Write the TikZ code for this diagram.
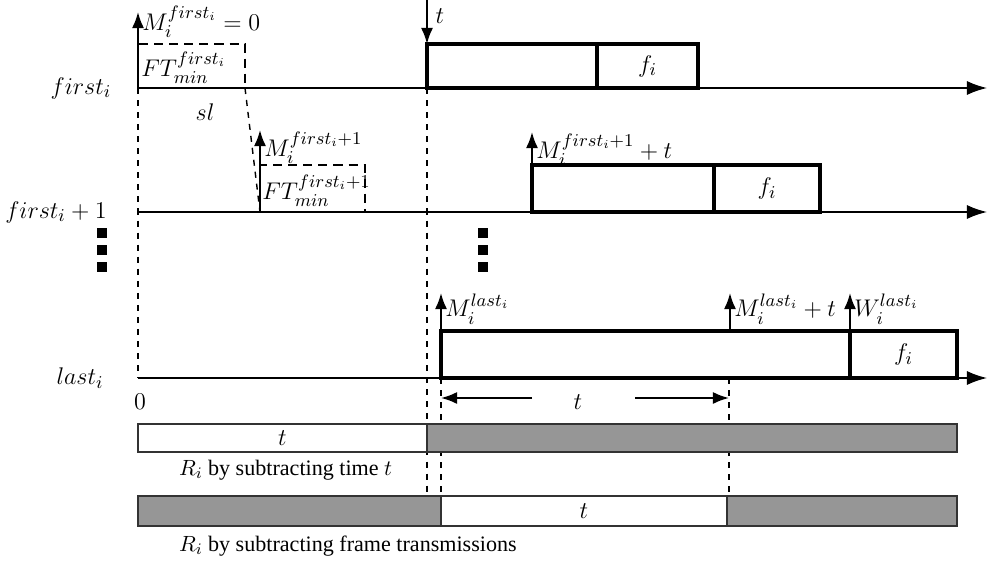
\documentclass[tikz,border=0pt]{standalone}
\usepackage{amsmath}
\usepackage{fontspec}
\setmainfont{Liberation Serif}
\usetikzlibrary{positioning,arrows.meta}

\tikzset{
  timeline/.style={line width=0.8pt,-{Latex[length=10pt,width=7pt]}},
  release/.style={line width=1pt,-{Latex[length=8pt,width=6pt]}},
  slotbox/.style={draw,line width=1.6pt},
  minbox/.style={draw,dash pattern=on 4.5pt off 3pt,line width=1.4pt},
  guide/.style={dashed,line width=0.7pt},
  busy/.style={draw=black!80,fill=black!41,line width=1.3pt},
  idle/.style={draw=black!80,fill=white,line width=1.3pt},
  dot/.style={fill=black,minimum size=5pt,inner sep=0pt},
  caption/.style={anchor=west,font=\fontsize{11}{13}\selectfont}
}

\begin{document}
\begin{tikzpicture}[x=0.0175cm,y=-0.0175cm,font=\fontsize{12.6}{15}\selectfont]
\useasboundingbox (0,0) rectangle (988,563);

\coordinate (o1) at (138,88);
\coordinate (o2) at (138,212);
\coordinate (o3) at (138,378);

\node (l1) at (81,88) {$first_i$};
\node (l2) at (56,212) {$first_i+1$};
\node (l3) at (80,378) {$last_i$};

\draw[guide] (o1) -- (o3);
\draw[guide] (427,88) -- (427,496);
\draw[guide] (441,378) -- (441,496);
\draw[guide] (729,378) -- (729,496);

\draw[timeline] (o1) -- (987,88);
\draw[timeline] (o2) -- (987,212);
\draw[timeline] (o3) -- (987,378);

\draw[minbox] (o1) rectangle (245,44) coordinate (ft1);
\node[anchor=west,inner sep=1pt] (ftl1) at (139,68) {$FT_{min}^{first_i}$};
\draw[release] (o1) -- (138,12) coordinate (m1);
\node[anchor=west,inner sep=2pt] (ml1) at ([yshift=-5]m1) {$M_i^{first_i}=0$};
\node (sl) at (205,112) {$sl$};
\coordinate (m2b) at (260,212);
\draw[guide] (245,88) -- (m2b);
\draw[minbox] (m2b) rectangle (365,165);
\node[anchor=west,inner sep=1pt] (ftl2) at (260,191) {$FT_{min}^{first_i+1}$};
\draw[release] (m2b) -- (260,130) coordinate (m2);
\node[anchor=west,inner sep=2pt] (ml2) at ([yshift=-9]m2) {$M_i^{first_i+1}$};

\foreach \x in {102,483}
  \foreach \y in {233,250,267}
    \node[dot] at (\x,\y) {};

\coordinate (tt) at (427,0);
\draw[release] (tt) -- (427,44);
\node (tl) at (440,16) {$t$};
\draw[slotbox] (427,44) rectangle (597,88);
\draw[slotbox] (597,44) rectangle node (f1) {$f_i$} (698,88);

\draw[release] (532,165) -- (532,132) coordinate (m3);
\node[anchor=west,inner sep=2pt] (ml3) at ([yshift=-9]m3) {$M_i^{first_i+1}+t$};
\draw[slotbox] (532,165) rectangle (714,212);
\draw[slotbox] (714,165) rectangle node (f2) {$f_i$} (820,212);

\draw[slotbox] (441,331) rectangle (850,378);
\draw[slotbox] (850,331) rectangle node (f3) {$f_i$} (957,378);
\draw[release] (441,331) -- (441,293) coordinate (m4);
\node[anchor=west,inner sep=2pt] (ml4) at ([yshift=-8]m4) {$M_i^{last_i}$};
\draw[release] (730,331) -- (730,293) coordinate (m5);
\node[anchor=west,inner sep=2pt] (ml5) at ([yshift=-8]m5) {$M_i^{last_i}+t$};
\draw[release] (850,331) -- (850,293) coordinate (m6);
\node[anchor=west,inner sep=2pt] (ml6) at ([yshift=-8]m6) {$W_i^{last_i}$};

\node (zero) at (140,402) {$0$};
\coordinate (da) at (441,398);
\coordinate (db) at (729,398);
\node (dt) at (578,402) {$t$};
\draw[release] (532,398) -- (da);
\draw[release] (635,398) -- (db);

\draw[idle] (138,424) rectangle node (b1) {$t$} (427,452);
\draw[busy] (427,424) rectangle (957,452);
\node[caption] (r1) at (172,470) {$R_i$ by subtracting time $t$};

\draw[busy] (138,496) rectangle (441,526);
\draw[idle] (441,496) rectangle node (b2) {$t$} (727,526);
\draw[busy] (727,496) rectangle (957,526);
\node[caption] (r2) at (172,546) {$R_i$ by subtracting frame transmissions};
\end{tikzpicture}
\end{document}
